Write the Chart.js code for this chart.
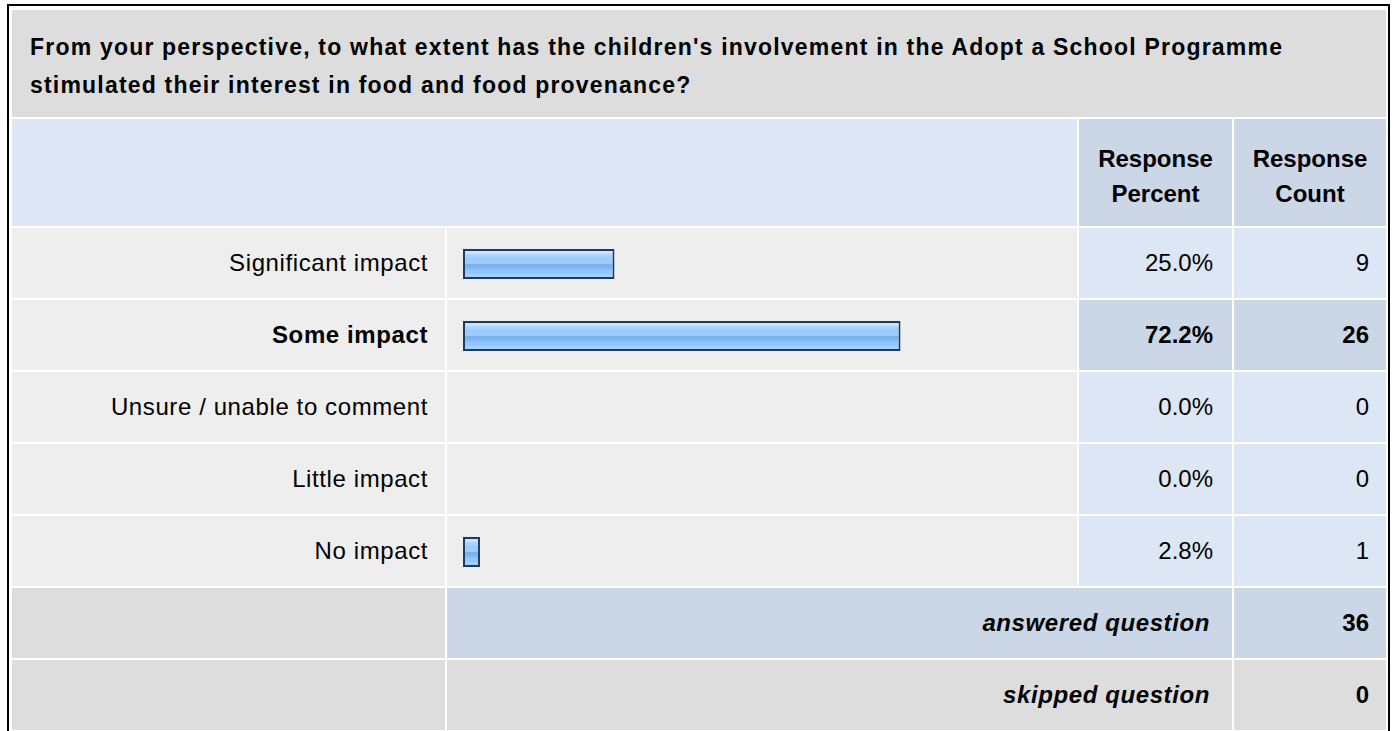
<!DOCTYPE html>
<html>
<head>
<meta charset="utf-8">
<script src="https://cdn.jsdelivr.net/npm/chart.js@4.4.1/dist/chart.umd.min.js"></script>
<style>
  body {
    margin: 0;
    width: 1396px;
    height: 731px;
    overflow: hidden;
    position: relative;
    background: #fff;
    font-family: "Liberation Sans", Arial, sans-serif;
    color: #000;
  }
  .frame {
    position: absolute;
    left: 7px;
    top: 4px;
    width: 1383px;
    height: 780px;
    border: 2px solid #000;
    box-sizing: border-box;
  }
  .cell {
    position: absolute;
    display: flex;
    align-items: center;
    box-sizing: border-box;
    font-size: 24px;
    white-space: nowrap;
  }
  .label { letter-spacing: 0.6px; }
  .right { justify-content: flex-end; }
  .center { justify-content: center; text-align: center; }
  .bold { font-weight: bold; }
  .title {
    font-size: 23px;
    font-weight: bold;
    line-height: 38px;
    letter-spacing: 1.2px;
    padding: 4px 0 0 18px;
  }
  .head {
    font-size: 24px;
    font-weight: bold;
    line-height: 35px;
    padding-top: 6px;
  }
  .summary { font-weight: bold; font-style: italic; }
  #bar-wrap {
    position: absolute;
    left: 447px;
    top: 228px;
    width: 630px;
    height: 360px;
  }
</style>
</head>
<body>
<div class="frame"></div>
<div id="table"></div>
<div id="bar-wrap"><canvas id="bar-chart" width="630" height="360"></canvas></div>

<script>
'use strict';

const questionLines = [
  "From your perspective, to what extent has the children's involvement in the Adopt a School Programme",
  'stimulated their interest in food and food provenance?'
];
const columnHeaders = [['Response', 'Percent'], ['Response', 'Count']];
const categories = ['Significant impact', 'Some impact', 'Unsure / unable to comment', 'Little impact', 'No impact'];
const responsePercent = [25.0, 72.2, 0.0, 0.0, 2.8];
const responseCount = [9, 26, 0, 0, 1];
const summaryLabels = ['answered question', 'skipped question'];
const summaryCounts = [36, 0];

// layout of the table grid (px)
const COL_X = [12, 447, 1079, 1234];
const COL_W = [433, 630, 153, 152];
const ROW_PITCH = 72;
const ROW_H = 70;
const FIRST_ROW_Y = 228;

const table = document.getElementById('table');

function addCell(x, y, w, h, bg, html, cls, padRight) {
  const d = document.createElement('div');
  d.className = 'cell ' + (cls || '');
  d.style.left = x + 'px';
  d.style.top = y + 'px';
  d.style.width = w + 'px';
  d.style.height = h + 'px';
  d.style.background = bg;
  if (padRight) d.style.paddingRight = padRight + 'px';
  d.innerHTML = html || '';
  table.appendChild(d);
  return d;
}

// title
addCell(12, 10, 1374, 107, '#dddddd', questionLines.join('<br>'), 'title');

// header row
addCell(12, 119, COL_X[2] - 2 - 12, 107, '#dce6f4', '');
addCell(COL_X[2], 119, COL_W[2], 107, '#cbd7e6', columnHeaders[0].join('<br>'), 'head center');
addCell(COL_X[3], 119, COL_W[3], 107, '#cbd7e6', columnHeaders[1].join('<br>'), 'head center');

// answer rows, the most chosen answer is highlighted
const topIndex = responseCount.indexOf(Math.max.apply(null, responseCount));
categories.forEach(function (label, i) {
  const y = FIRST_ROW_Y + i * ROW_PITCH;
  const hi = i === topIndex;
  const numBg = hi ? '#cbd7e6' : '#dce6f4';
  const b = hi ? ' bold' : '';
  addCell(COL_X[0], y, COL_W[0], ROW_H, '#eeeeee', label, 'label right' + b, 17);
  addCell(COL_X[1], y, COL_W[1], ROW_H, '#eeeeee', '');
  addCell(COL_X[2], y, COL_W[2], ROW_H, numBg, responsePercent[i].toFixed(1) + '%', 'right' + b, 19);
  addCell(COL_X[3], y, COL_W[3], ROW_H, numBg, String(responseCount[i]), 'right' + b, 17);
});

// answered / skipped rows
summaryLabels.forEach(function (label, j) {
  const y = FIRST_ROW_Y + (categories.length + j) * ROW_PITCH;
  const bg = j === 0 ? '#cbd7e6' : '#dddddd';
  addCell(COL_X[0], y, COL_W[0], ROW_H, '#dddddd', '');
  addCell(COL_X[1], y, COL_X[3] - 2 - COL_X[1], ROW_H, bg, label, 'label right summary', 22);
  addCell(COL_X[3], y, COL_W[3], ROW_H, bg, String(summaryCounts[j]), 'right bold', 17);
});

// glossy stripe fill for the bars, one period per table row
function makeBarPattern(ctx) {
  const c = document.createElement('canvas');
  c.width = 4;
  c.height = ROW_PITCH;
  const g = c.getContext('2d');
  const top = 21;
  const stripes = [
    [0, 5, '#c8e3ff'],
    [5, 8, '#acd5fe'],
    [8, 15, '#9ccbfd'],
    [15, 19, '#7cb3ef'],
    [19, 21, '#86bcf5'],
    [21, 25, '#93c6fb'],
    [25, 30, '#a2d0ff']
  ];
  g.fillStyle = '#9ccbfd';
  g.fillRect(0, 0, 4, ROW_PITCH);
  stripes.forEach(function (s) {
    g.fillStyle = s[2];
    g.fillRect(0, top + s[0], 4, s[1] - s[0]);
  });
  return ctx.createPattern(c, 'repeat');
}

const canvas = document.getElementById('bar-chart');
const ctx = canvas.getContext('2d');

new Chart(ctx, {
  type: 'bar',
  data: {
    labels: categories,
    datasets: [{
      data: responsePercent,
      backgroundColor: makeBarPattern(ctx),
      borderColor: '#1d3a5f',
      borderWidth: 2,
      borderSkipped: false,
      inflateAmount: 0,
      barThickness: 30
    }]
  },
  options: {
    indexAxis: 'y',
    responsive: false,
    animation: false,
    layout: {
      padding: { left: 16, right: 8, top: 0, bottom: 0 }
    },
    plugins: {
      legend: { display: false },
      tooltip: { enabled: false }
    },
    scales: {
      x: { min: 0, max: 100, display: false },
      y: { display: false }
    }
  }
});
</script>
</body>
</html>
